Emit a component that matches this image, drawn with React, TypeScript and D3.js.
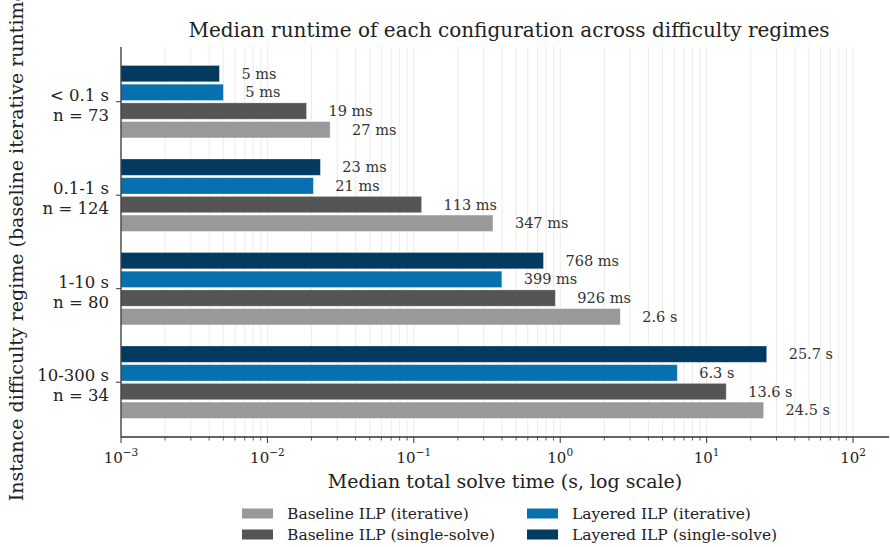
import { useEffect, useRef } from "react";
import * as d3 from "d3";

// Difficulty regimes (top to bottom) and their instance counts
const REGIMES = ["< 0.1 s", "0.1-1 s", "1-10 s", "10-300 s"];
const COUNTS = [73, 124, 80, 34];

// Median runtimes in seconds, one value per regime
const layeredSingle = [0.0047, 0.023, 0.768, 25.7];
const layeredIter = [0.005, 0.0206, 0.399, 6.3];
const baselineSingle = [0.0185, 0.113, 0.926, 13.6];
const baselineIter = [0.0268, 0.347, 2.57, 24.5];

// Text shown next to each bar
const layeredSingleLabels = ["5 ms", "23 ms", "768 ms", "25.7 s"];
const layeredIterLabels = ["5 ms", "21 ms", "399 ms", "6.3 s"];
const baselineSingleLabels = ["19 ms", "113 ms", "926 ms", "13.6 s"];
const baselineIterLabels = ["27 ms", "347 ms", "2.6 s", "24.5 s"];

const X_TICK_EXPONENTS = [-3, -2, -1, 0, 1, 2];

// Bars drawn top to bottom inside each group
const SERIES = [
  { label: "Layered ILP (single-solve)", color: "#023b5f", values: layeredSingle, texts: layeredSingleLabels },
  { label: "Layered ILP (iterative)", color: "#0771b0", values: layeredIter, texts: layeredIterLabels },
  { label: "Baseline ILP (single-solve)", color: "#555555", values: baselineSingle, texts: baselineSingleLabels },
  { label: "Baseline ILP (iterative)", color: "#999999", values: baselineIter, texts: baselineIterLabels },
];

// legend order as in the figure (column-major)
const LEGEND_ORDER = [3, 2, 1, 0];

const FONT = "DejaVu Serif, serif";

export default function App() {
  const svgRef = useRef<SVGSVGElement | null>(null);

  useEffect(() => {
    const width = 890;
    const height = 547;
    const left = 121, right = 889, top = 47, bottom = 437;

    const svg = d3.select(svgRef.current);
    svg.selectAll("*").remove();
    svg.attr("width", width).attr("height", height);

    const x = d3.scaleLog().domain([1e-3, 176]).range([left, right]);
    const y = d3.scaleLinear().domain([-0.585, 3.586]).range([top, bottom]);
    const pitch = y(0.2) - y(0);
    const barH = pitch - 2.4;

    // ----- grid (major + minor decades) -----
    const gridVals: number[] = [];
    for (let e = -3; e <= 2; e++) {
      for (let m = 1; m <= 9; m++) {
        const v = m * Math.pow(10, e);
        if (v <= x.domain()[1]) gridVals.push(v);
      }
    }
    svg.append("g")
      .selectAll("line")
      .data(gridVals.filter((v) => v > 1e-3))
      .join("line")
      .attr("x1", (d) => x(d)).attr("x2", (d) => x(d))
      .attr("y1", top).attr("y2", bottom)
      .attr("stroke", "#e6e6e6")
      .attr("stroke-width", 0.8);

    // ----- bars -----
    SERIES.forEach((s, si) => {
      const offset = (si - 1.5) * 0.2;
      const g = svg.append("g");
      g.selectAll("rect")
        .data(s.values)
        .join("rect")
        .attr("x", x(1e-3))
        .attr("y", (_, i) => y(i + offset) - barH / 2)
        .attr("width", (d) => x(d) - x(1e-3))
        .attr("height", barH)
        .attr("fill", s.color)
        .attr("stroke", "#ffffff")
        .attr("stroke-opacity", 0.35)
        .attr("stroke-width", 0.8);
      g.selectAll("text")
        .data(s.values)
        .join("text")
        .attr("x", (d) => x(d) + 22)
        .attr("y", (_, i) => y(i + offset))
        .attr("dy", "0.35em")
        .attr("font-family", FONT)
        .attr("font-size", 14.5)
        .attr("fill", "#333333")
        .text((_, i) => s.texts[i]);
    });

    // ----- x axis -----
    const minorTicks = gridVals.filter((v) => !X_TICK_EXPONENTS.some((e) => Math.abs(v - Math.pow(10, e)) < 1e-12));
    const xg = svg.append("g");
    xg.selectAll("line.minor")
      .data(minorTicks)
      .join("line")
      .attr("class", "minor")
      .attr("x1", (d) => x(d)).attr("x2", (d) => x(d))
      .attr("y1", bottom).attr("y2", bottom + 3.5)
      .attr("stroke", "#333").attr("stroke-width", 0.8);
    xg.selectAll("line.major")
      .data(X_TICK_EXPONENTS)
      .join("line")
      .attr("class", "major")
      .attr("x1", (d) => x(Math.pow(10, d))).attr("x2", (d) => x(Math.pow(10, d)))
      .attr("y1", bottom).attr("y2", bottom + 6)
      .attr("stroke", "#333").attr("stroke-width", 1);
    const tl = xg.selectAll("text")
      .data(X_TICK_EXPONENTS)
      .join("text")
      .attr("x", (d) => x(Math.pow(10, d)))
      .attr("y", bottom + 26)
      .attr("text-anchor", "middle")
      .attr("font-family", FONT)
      .attr("font-size", 15)
      .attr("fill", "#222");
    tl.append("tspan").text("10");
    tl.append("tspan")
      .attr("dy", -7)
      .attr("font-size", 10.5)
      .text((d) => (d < 0 ? "\u2212" + Math.abs(d) : String(d)));
    xg.append("line")
      .attr("x1", left).attr("x2", right)
      .attr("y1", bottom).attr("y2", bottom)
      .attr("stroke", "#333").attr("stroke-width", 1.3);

    // ----- y axis -----
    svg.append("line")
      .attr("x1", left).attr("x2", left)
      .attr("y1", top).attr("y2", bottom)
      .attr("stroke", "#333").attr("stroke-width", 1.3);
    const yg = svg.append("g");
    REGIMES.forEach((r, i) => {
      yg.append("line")
        .attr("x1", left - 5).attr("x2", left)
        .attr("y1", y(i)).attr("y2", y(i))
        .attr("stroke", "#333").attr("stroke-width", 1);
      const t = yg.append("text")
        .attr("text-anchor", "end")
        .attr("font-family", FONT)
        .attr("font-size", 16.5)
        .attr("fill", "#222");
      t.append("tspan").attr("x", left - 12).attr("y", y(i) - 1).text(r);
      t.append("tspan").attr("x", left - 12).attr("y", y(i) + 19).text(`n = ${COUNTS[i]}`);
    });

    // ----- titles -----
    svg.append("text")
      .attr("x", (left + right) / 2 + 4)
      .attr("y", 37)
      .attr("text-anchor", "middle")
      .attr("font-family", FONT)
      .attr("font-size", 20)
      .attr("fill", "#222")
      .text("Median runtime of each configuration across difficulty regimes");
    svg.append("text")
      .attr("x", (left + right) / 2)
      .attr("y", 488)
      .attr("text-anchor", "middle")
      .attr("font-family", FONT)
      .attr("font-size", 19)
      .attr("fill", "#222")
      .text("Median total solve time (s, log scale)");
    // long label, centred on the plot; the figure lets it run past the top edge
    svg.append("text")
      .attr("transform", `translate(23, ${(top + bottom) / 2}) rotate(-90)`)
      .attr("text-anchor", "middle")
      .attr("font-family", FONT)
      .attr("font-size", 19)
      .attr("fill", "#222")
      .text("Instance difficulty regime (baseline iterative runtime)");

    // ----- legend -----
    const legend = svg.append("g");
    LEGEND_ORDER.forEach((si, k) => {
      const col = Math.floor(k / 2);
      const row = k % 2;
      const gx = 242 + col * 285;
      const gy = 513.5 + row * 21;
      legend.append("rect")
        .attr("x", gx).attr("y", gy - 5)
        .attr("width", 31).attr("height", 10)
        .attr("fill", SERIES[si].color);
      legend.append("text")
        .attr("x", gx + 45).attr("y", gy)
        .attr("dy", "0.35em")
        .attr("font-family", FONT)
        .attr("font-size", 15.5)
        .attr("fill", "#222")
        .text(SERIES[si].label);
    });
  }, []);

  return (
    <div style={{ position: "absolute", left: 0, top: 0 }}>
      <svg ref={svgRef}></svg>
    </div>
  );
}
